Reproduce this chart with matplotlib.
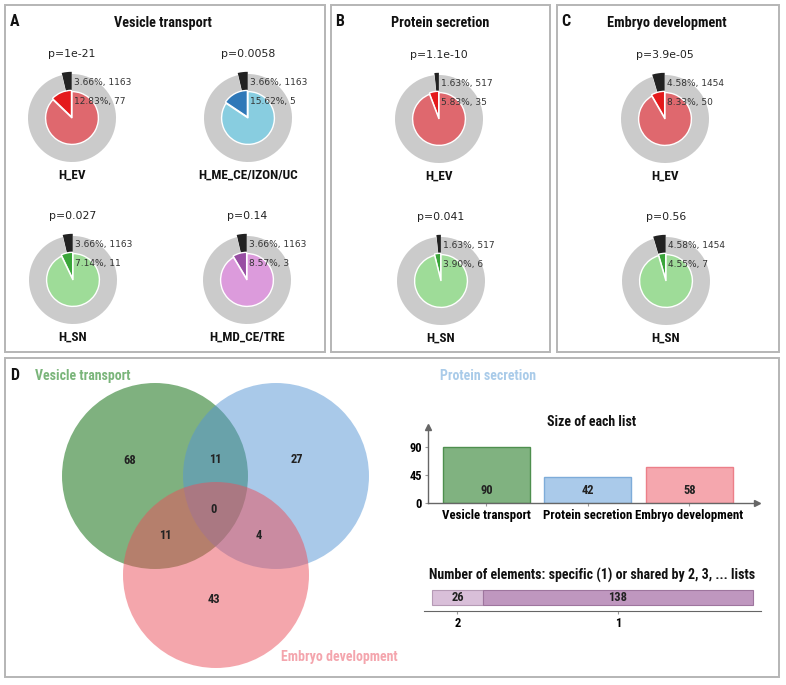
import matplotlib
matplotlib.use("Agg")
import matplotlib.pyplot as plt
from matplotlib.patches import Rectangle, Circle

W, H = 786, 685
NARROW = ['Roboto Condensed', 'IBM Plex Sans Condensed', 'Liberation Sans']
plt.rcParams['font.family'] = ['DejaVu Sans']

# ---------------- data ----------------
panel_titles = ["Vesicle transport", "Protein secretion", "Embryo development"]
panel_letters = ["A", "B", "C"]

a_names = ["H_EV", "H_ME_CE/IZON/UC", "H_SN", "H_MD_CE/TRE"]
a_pvals = ["p=1e-21", "p=0.0058", "p=0.027", "p=0.14"]
a_bg_pct = [3.66, 3.66, 3.66, 3.66]
a_bg_n = [1163, 1163, 1163, 1163]
a_fg_pct = [12.83, 15.62, 7.14, 8.57]
a_fg_n = [77, 5, 11, 3]

b_names = ["H_EV", "H_SN"]
b_pvals = ["p=1.1e-10", "p=0.041"]
b_bg_pct = [1.63, 1.63]
b_bg_n = [517, 517]
b_fg_pct = [5.83, 3.90]
b_fg_n = [35, 6]

c_names = ["H_EV", "H_SN"]
c_pvals = ["p=3.9e-05", "p=0.56"]
c_bg_pct = [4.58, 4.58]
c_bg_n = [1454, 1454]
c_fg_pct = [8.33, 4.55]
c_fg_n = [50, 7]

venn_sets = ["Vesicle transport", "Protein secretion", "Embryo development"]
venn_counts = {"100": 68, "010": 27, "001": 43, "110": 11, "101": 11, "011": 4, "111": 0}

list_names = ["Vesicle transport", "Protein secretion", "Embryo development"]
list_sizes = [90, 42, 58]
list_ticks = [0, 45, 90]

shared_labels = ["2", "1"]
shared_counts = [26, 138]

# ---------------- styles ----------------
pie_dark = {"red": "#e41a1c", "blue": "#2f78b8", "green": "#3aa53a", "purple": "#984ea3"}
pie_light = {"red": "#df686e", "blue": "#88cde0", "green": "#9edc98", "purple": "#dc9bdc"}
ring_gray = "#cbcbcb"
ring_black = "#222222"
frame_col = "#b5b5b5"

fig = plt.figure(figsize=(W / 100, H / 100), dpi=100)


def rect(x0, y0, w, h):
    return [x0 / W, 1 - (y0 + h) / H, w / W, h / H]


def fx(x):
    return x / W


def fy(y):
    return 1 - y / H


def frame(x0, y0, x1, y1):
    fig.patches.append(Rectangle((fx(x0), fy(y1)), (x1 - x0) / W, (y1 - y0) / H,
                                 transform=fig.transFigure, fill=False,
                                 edgecolor=frame_col, linewidth=1.4))


frame(5, 5, 325, 352)
frame(331, 5, 550, 352)
frame(557, 5, 779, 352)
frame(5, 358, 779, 677)


def donut(cx, cy, bg_pct, bg_n, fg_pct, fg_n, pval, name, scheme):
    size = 110
    ax = fig.add_axes(rect(cx - size / 2, cy - size / 2, size, size))
    ax.set_xlim(-size / 2 / 45, size / 2 / 45)
    ax.set_ylim(-size / 2 / 45, size / 2 / 45)
    ax.set_aspect('equal')
    ax.axis('off')
    ax.pie([bg_pct, 100 - bg_pct], radius=1.0, startangle=90, counterclock=True,
           explode=[0.05, 0], colors=[ring_black, ring_gray],
           wedgeprops=dict(width=0.42, linewidth=0))
    ax.pie([fg_pct, 100 - fg_pct], radius=0.6, startangle=90, counterclock=True,
           explode=[0.03, 0], colors=[pie_dark[scheme], pie_light[scheme]],
           wedgeprops=dict(edgecolor='white', linewidth=1.0))
    ax.text(0.05, 0.8, f"{bg_pct:.2f}%, {bg_n}", fontsize=6.5, color='#333333',
            ha='left', va='center')
    ax.text(0.05, 0.38, f"{fg_pct:.2f}%, {fg_n}", fontsize=6.5, color='#333333',
            ha='left', va='center')
    fig.text(fx(cx), fy(cy - 64), pval, fontsize=7.8, color='#222222',
             ha='center', va='center')
    fig.text(fx(cx), fy(cy + 57), name, fontsize=9.5, fontweight='bold',
             family=NARROW, ha='center', va='center', color='#111111')


# Panel A
a_schemes = ["red", "blue", "green", "purple"]
a_pos = [(72, 118), (248, 118), (73, 280), (247, 280)]
for i in range(4):
    donut(a_pos[i][0], a_pos[i][1], a_bg_pct[i], a_bg_n[i], a_fg_pct[i], a_fg_n[i],
          a_pvals[i], a_names[i], a_schemes[i])
# Panel B
bc_schemes = ["red", "green"]
b_pos = [(439, 119), (441, 281)]
for i in range(2):
    donut(b_pos[i][0], b_pos[i][1], b_bg_pct[i], b_bg_n[i], b_fg_pct[i], b_fg_n[i],
          b_pvals[i], b_names[i], bc_schemes[i])
# Panel C
c_pos = [(665, 119), (666, 281)]
for i in range(2):
    donut(c_pos[i][0], c_pos[i][1], c_bg_pct[i], c_bg_n[i], c_fg_pct[i], c_fg_n[i],
          c_pvals[i], c_names[i], bc_schemes[i])

# panel titles and letters
title_x = [163, 440, 667]
letter_x = [15, 340, 566]
for t, tx, l, lx in zip(panel_titles, title_x, panel_letters, letter_x):
    fig.text(fx(tx), fy(23), t, fontsize=10.3, fontweight='bold', family=NARROW,
             ha='center', va='center', color='#111111')
    fig.text(fx(lx), fy(22), l, fontsize=11.5, fontweight='bold', family=NARROW,
             ha='center', va='center', color='#111111')
fig.text(fx(15), fy(375), "D", fontsize=11.5, fontweight='bold', family=NARROW,
         ha='center', va='center', color='#111111')

# ---------------- Venn ----------------
axv = fig.add_axes(rect(10, 362, 400, 310))
axv.set_xlim(10, 410)
axv.set_ylim(672, 362)
axv.set_aspect('equal')
axv.axis('off')
venn_centers = [(155, 476), (276, 476), (216, 575)]
venn_r = 93
venn_cols = ["#006500", "#5595d5", "#eb4f5b"]
for (cx, cy), col in zip(venn_centers, venn_cols):
    axv.add_patch(Circle((cx, cy), venn_r, facecolor=col, alpha=0.5, edgecolor='none'))
region_pos = {"100": (130, 461), "110": (215, 460), "010": (297, 460),
              "111": (214, 510), "101": (165, 536), "011": (259, 536), "001": (214, 600)}
for k, v in venn_counts.items():
    x, y = region_pos[k]
    axv.text(x, y, str(v), fontsize=9, fontweight='bold', family=NARROW,
             ha='center', va='center', color='#222222')
fig.text(fx(35), fy(376), venn_sets[0], fontsize=10, fontweight='bold', family=NARROW,
         ha='left', va='center', color='#7ab57a')
fig.text(fx(440), fy(376), venn_sets[1], fontsize=10, fontweight='bold', family=NARROW,
         ha='left', va='center', color='#a9cbe9')
fig.text(fx(398), fy(657), venn_sets[2], fontsize=10, fontweight='bold', family=NARROW,
         ha='right', va='center', color='#f4a5ad')

# ---------------- bar chart: size of each list ----------------
bar_face = ["#80b280", "#aacaea", "#f5a7ae"]
bar_edge = ["#4e8f4e", "#7eacd9", "#ec7f89"]
axb = fig.add_axes(rect(428, 427, 329, 76))
xs = list(range(len(list_sizes)))
axb.bar(xs, list_sizes, width=0.857, color=bar_face, edgecolor=bar_edge, linewidth=1.0)
for x, v in zip(xs, list_sizes):
    axb.text(x, 20, str(v), ha='center', va='center', fontsize=9, fontweight='bold',
             family=NARROW, color='#222222')
axb.set_xlim(-0.576, 2.665)
axb.set_ylim(0, 122)
axb.set_yticks(list_ticks)
axb.set_yticklabels([str(t) for t in list_ticks], fontsize=9, fontweight='bold',
                    family=NARROW)
axb.set_xticks(xs)
axb.set_xticklabels(list_names, fontsize=9.3, fontweight='bold', family=NARROW)
for s in ['top', 'right']:
    axb.spines[s].set_visible(False)
for s in ['left', 'bottom']:
    axb.spines[s].set_color('#666666')
    axb.spines[s].set_linewidth(1.0)
axb.tick_params(axis='both', length=2.5, color='#999999', pad=2)
axb.plot(1, 0, ">", color='#666666', markersize=5, transform=axb.transAxes,
         clip_on=False)
axb.plot(0, 1, "^", color='#666666', markersize=5, transform=axb.transAxes,
         clip_on=False)
axb.patch.set_alpha(0)
fig.text(fx(592), fy(422), "Size of each list", fontsize=10, fontweight='bold',
         family=NARROW, ha='center', va='center', color='#111111')

# ---------------- shared-by bar ----------------
axs = fig.add_axes(rect(424, 585, 337, 26))
left = 0
seg_face = ["#d9bfd9", "#bf97bf"]
seg_edge = ["#b59ab5", "#9e759e"]
centers = []
for c, fc, ec in zip(shared_counts, seg_face, seg_edge):
    axs.barh(0.52, c, left=left, height=0.58, color=fc, edgecolor=ec, linewidth=0.8)
    axs.text(left + c / 2, 0.52, str(c), ha='center', va='center', fontsize=9,
             fontweight='bold', family=NARROW, color='#222222')
    centers.append(left + c / 2)
    left += c
axs.set_xlim(-4.09, sum(shared_counts) + 4.1)
axs.set_ylim(0, 1)
axs.set_xticks(centers)
axs.set_xticklabels(shared_labels, fontsize=9, fontweight='bold', family=NARROW)
axs.set_yticks([])
for s in ['top', 'right', 'left']:
    axs.spines[s].set_visible(False)
axs.spines['bottom'].set_color('#666666')
axs.tick_params(axis='x', length=2.5, color='#999999', pad=2)
axs.patch.set_alpha(0)
fig.text(fx(592), fy(575), "Number of elements: specific (1) or shared by 2, 3, ... lists",
         fontsize=10, fontweight='bold', family=NARROW, ha='center', va='center',
         color='#111111')

fig.savefig("out.png", dpi=100)
